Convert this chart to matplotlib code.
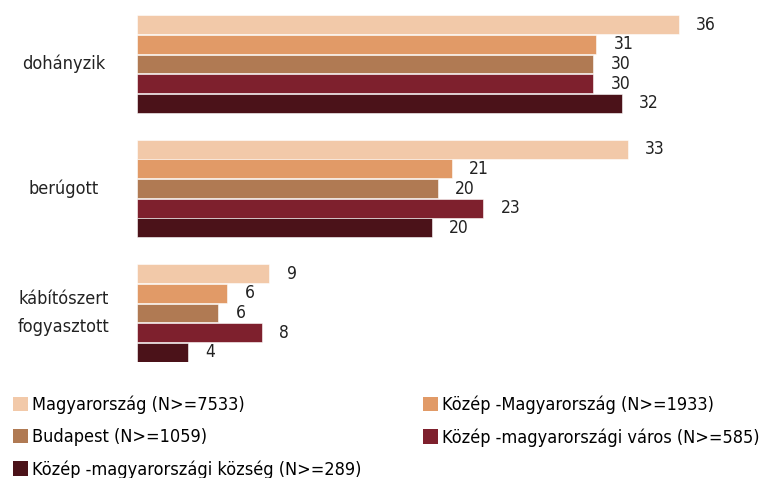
import matplotlib
matplotlib.use("Agg")
from matplotlib import pyplot as plt
from matplotlib.patches import Patch

plt.rcParams['font.family'] = ['DejaVu Sans']
plt.rcParams['font.stretch'] = 'condensed'

categories = ["dohányzik", "berúgott", "kábítószert\nfogyasztott"]
series_names = [
    "Magyarország (N>=7533)",
    "Közép -Magyarország (N>=1933)",
    "Budapest (N>=1059)",
    "Közép -magyarországi város (N>=585)",
    "Közép -magyarországi község (N>=289)",
]
colors = ["#F2C9A9", "#E19A67", "#B07A53", "#7E202D", "#4B1219"]

# estimated bar lengths (per category, per series)
magyarorszag = [36.0, 32.6, 8.8]
kozep_magyarorszag = [30.5, 20.9, 6.0]
budapest = [30.3, 20.0, 5.4]
kozep_varos = [30.3, 23.0, 8.3]
kozep_kozseg = [32.2, 19.6, 3.4]
values = [magyarorszag, kozep_magyarorszag, budapest, kozep_varos, kozep_kozseg]

# printed data labels
label_values = [[36, 33, 9], [31, 21, 6], [30, 20, 6], [30, 23, 8], [32, 20, 4]]

group_pitch = 6.35

fig = plt.figure(figsize=(7.62, 4.78), dpi=100)
ax = fig.add_axes([137 / 762, 1 - 362 / 478, (739 - 137) / 762, (362 - 15) / 478])

for s, (vals, col) in enumerate(zip(values, colors)):
    ys = [-(g * group_pitch + s) for g in range(len(categories))]
    ax.barh(ys, vals, height=0.96, color=col, edgecolor="white", linewidth=0.4)
    for y, v, lab in zip(ys, vals, label_values[s]):
        ax.text(v + 1.15, y, str(lab), va="center", ha="left", fontsize=12.5, color="#222222")

ax.set_xlim(0, 40)
ax.set_ylim(-(2 * group_pitch + 4) - 0.5, 0.5)
ax.axis("off")

for g, cat in enumerate(categories):
    ax.text(-4.9, -(g * group_pitch + 2), cat, ha="center", va="center",
            fontsize=13, linespacing=1.75, color="#222222")

handles = [Patch(facecolor=c, edgecolor="none") for c in colors]
order = [0, 2, 4, 1, 3]
fig.legend([handles[i] for i in order], [series_names[i] for i in order],
           ncol=2, loc="upper left", bbox_to_anchor=(13 / 762, 1 - 396 / 478),
           frameon=False, fontsize=13, handlelength=0.85, handleheight=0.85,
           handletextpad=0.2, labelspacing=0.77, columnspacing=3.4,
           borderpad=0, borderaxespad=0)

fig.savefig("out.png", dpi=100)
